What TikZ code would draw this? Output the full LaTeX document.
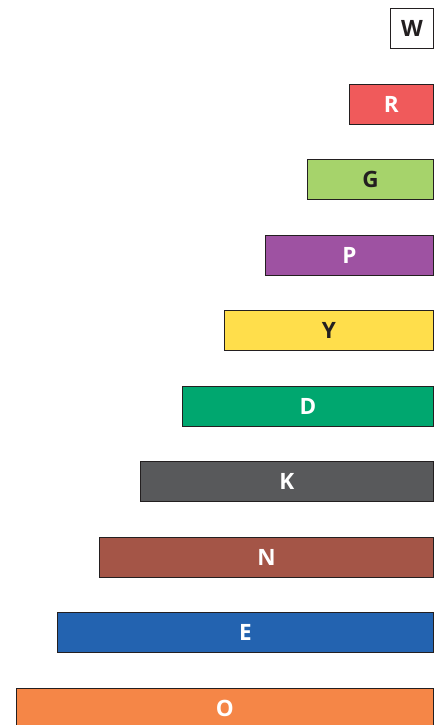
\documentclass[tikz,border=0pt]{standalone}
\usepackage{fontspec}
\setmainfont{Open Sans}
\definecolor{edge}{HTML}{231F20}
\definecolor{cR}{HTML}{F05A5B}
\definecolor{cG}{HTML}{A6D36B}
\definecolor{cP}{HTML}{9E52A2}
\definecolor{cY}{HTML}{FFDE4B}
\definecolor{cD}{HTML}{00A76F}
\definecolor{cK}{HTML}{58595B}
\definecolor{cN}{HTML}{A45547}
\definecolor{cE}{HTML}{2363B0}
\definecolor{cO}{HTML}{F58647}
\begin{document}
\begin{tikzpicture}[x=1pt,y=1pt,
  bar/.style={draw=edge,line width=1.2pt,minimum height=40pt,inner sep=0pt,
    font=\fontsize{22.5}{22.5}\selectfont\bfseries}]
\useasboundingbox (0,0) rectangle (442,-725);
\clip (0,0) rectangle (442,-725);
% right-aligned bars, each one step wider than the one above
\foreach \name/\fillc/\txtc/\left/\top in {
  W/white/edge/391/8,
  R/cR/white/350/84,
  G/cG/edge/308/159,
  P/cP/white/266/235,
  Y/cY/edge/225/310,
  D/cD/white/183/386,
  K/cK/white/141/461,
  N/cN/white/100/537,
  E/cE/white/58/612,
  O/cO/white/17/688}{
  \node[bar,fill=\fillc,text=\txtc,minimum width={434-\left},anchor=north east]
    (\name) at (434,-\top) {\name};
}
\end{tikzpicture}
\end{document}
